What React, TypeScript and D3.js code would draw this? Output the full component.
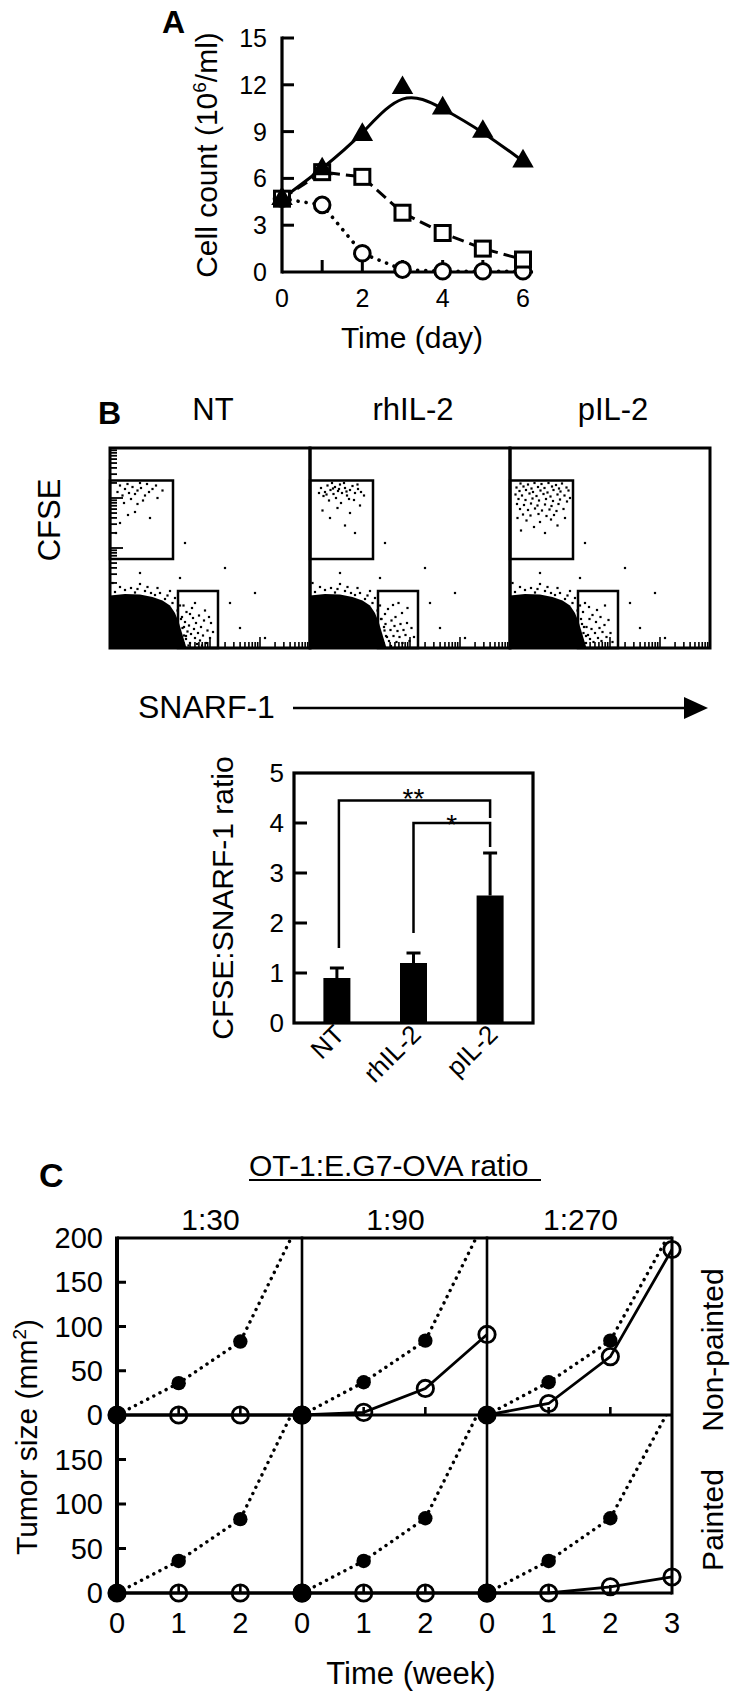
import React from 'react';
import * as d3 from 'd3';

const FONT = "'Liberation Sans', Arial, Helvetica, sans-serif";

// ---------- Panel A: cell count over time
const DAYS = [0, 1, 2, 3, 4, 5, 6];
const COUNT_TRI = [4.7, 6.6, 8.8, 11.8, 10.5, 9.0, 7.1];
const COUNT_SQ = [4.7, 6.4, 6.1, 3.8, 2.5, 1.5, 0.8];
const COUNT_CIR = [4.7, 4.3, 1.2, 0.15, 0.05, 0.05, 0.05];
const A_YTICKS = [0, 3, 6, 9, 12, 15];
const A_XLABELS = [0, 2, 4, 6];

// ---------- Panel B: flow plots (log decades, 0-4)
const FLOW_NAMES = ['NT', 'rhIL-2', 'pIL-2'];
const BLOB = [[0, 0], [0, 1.05], [0.3, 1.08], [0.6, 1.07], [0.85, 1.02], [1.05, 0.95], [1.2, 0.85], [1.3, 0.7], [1.38, 0.5], [1.44, 0.3], [1.5, 0.1], [1.53, 0]];
const BLOB_EDGE = [[0.1, 1.12], [0.3, 1.16], [0.5, 1.11], [0.7, 1.14], [0.9, 1.06], [1.1, 0.98], [1.25, 0.9], [1.35, 0.75], [0.2, 1.22], [0.6, 1.28], [1.0, 1.1], [1.3, 1.0], [0.42, 1.2], [0.82, 1.1], [1.42, 0.58], [1.2, 1.14], [1.48, 0.42], [1.52, 0.24], [0.05, 1.3], [0.95, 1.2], [1.15, 1.05], [0.75, 1.22], [1.4, 0.85], [0.55, 1.18]];
const TOP_GATE = [0, 1.26, 1.78, 3.35];
const LOW_GATE = [1.36, 2.16, 0, 1.14];
const NT_TOP = [[0.15, 3.12], [0.25, 3.05], [0.3, 3.18], [0.38, 3.1], [0.45, 3.22], [0.5, 3.08], [0.55, 3.15], [0.62, 3.2], [0.7, 3.05], [0.78, 3.12], [0.2, 3.25], [0.35, 3.28], [0.6, 3.3], [0.85, 3.18], [0.92, 3.25], [0.42, 2.98], [0.66, 2.95], [0.28, 2.9], [0.55, 2.88], [0.36, 2.66], [0.5, 2.72], [0.2, 2.5], [0.8, 2.6], [0.12, 2.3], [0.95, 3.0], [1.05, 3.15], [0.74, 3.28]];
const RH_TOP = [[0.22, 3.2], [0.3, 3.12], [0.35, 3.25], [0.41, 3.16], [0.47, 3.08], [0.5, 3.22], [0.56, 3.14], [0.6, 3.27], [0.64, 3.1], [0.7, 3.2], [0.74, 3.05], [0.8, 3.16], [0.85, 3.24], [0.9, 3.1], [0.96, 3.18], [1.02, 3.12], [0.27, 3.04], [0.44, 3.3], [0.68, 3.3], [0.52, 3.0], [0.78, 2.98], [0.38, 2.95], [0.62, 2.9], [0.88, 2.96], [1.08, 3.05], [0.18, 3.1], [0.58, 3.18], [0.73, 3.13], [0.46, 3.19], [0.33, 3.07], [0.95, 3.27], [0.55, 2.8], [0.8, 2.7], [0.4, 2.6], [0.7, 2.45], [1.0, 2.85], [0.25, 2.75], [0.9, 2.3]];
const P_TOP = [
  [0.21, 3.29], [0.36, 3.27], [0.49, 3.3], [0.63, 3.28], [0.77, 3.3], [0.92, 3.26], [1.04, 3.29],
  [0.13, 3.21], [0.27, 3.23], [0.43, 3.19], [0.56, 3.22], [0.69, 3.2], [0.84, 3.23], [0.98, 3.19], [1.13, 3.21],
  [0.19, 3.14], [0.32, 3.16], [0.46, 3.12], [0.61, 3.15], [0.75, 3.11], [0.87, 3.16], [1.01, 3.13], [1.17, 3.15],
  [0.11, 3.07], [0.24, 3.05], [0.39, 3.09], [0.53, 3.04], [0.67, 3.08], [0.81, 3.03], [0.95, 3.07], [1.09, 3.05],
  [0.17, 2.98], [0.31, 2.96], [0.45, 2.99], [0.58, 2.95], [0.72, 2.98], [0.86, 2.94], [1.0, 2.97], [1.14, 2.93],
  [0.14, 2.88], [0.28, 2.86], [0.42, 2.89], [0.55, 2.85], [0.7, 2.87], [0.83, 2.84], [0.97, 2.88],
  [0.2, 2.78], [0.36, 2.76], [0.5, 2.79], [0.64, 2.75], [0.79, 2.77], [0.93, 2.74], [1.07, 2.78],
  [0.26, 2.67], [0.41, 2.65], [0.57, 2.68], [0.73, 2.64], [0.88, 2.66],
  [0.33, 2.55], [0.6, 2.52], [0.82, 2.57], [0.48, 2.42], [0.95, 2.45], [0.22, 2.35], [0.7, 2.3], [1.1, 2.6], [0.15, 2.6], [1.2, 3.0],
];
const NT_LOW = [[1.42, 0.12], [1.48, 0.25], [1.45, 0.4], [1.52, 0.18], [1.55, 0.33], [1.5, 0.52], [1.6, 0.1], [1.62, 0.28], [1.58, 0.45], [1.66, 0.6], [1.7, 0.2], [1.68, 0.38], [1.74, 0.08], [1.76, 0.3], [1.72, 0.5], [1.8, 0.15], [1.82, 0.42], [1.78, 0.65], [1.86, 0.25], [1.88, 0.55], [1.92, 0.1], [1.95, 0.35], [1.9, 0.75], [2.0, 0.2], [2.02, 0.5], [1.44, 0.62], [1.53, 0.72], [1.64, 0.8], [1.57, 0.05], [1.84, 0.05], [1.98, 0.62], [2.06, 0.32], [1.47, 0.85], [1.7, 0.9], [1.6, 0.68]];
const RH_LOW = [[1.41, 0.2], [1.46, 0.08], [1.49, 0.35], [1.54, 0.22], [1.51, 0.48], [1.58, 0.14], [1.61, 0.36], [1.63, 0.55], [1.67, 0.24], [1.69, 0.44], [1.73, 0.12], [1.75, 0.34], [1.71, 0.62], [1.79, 0.22], [1.81, 0.48], [1.85, 0.1], [1.87, 0.36], [1.84, 0.7], [1.91, 0.26], [1.94, 0.5], [1.99, 0.14], [2.03, 0.4], [1.43, 0.58], [1.56, 0.78], [1.66, 0.86], [1.77, 0.9], [1.95, 0.8], [2.08, 0.22], [1.5, 0.68], [1.62, 0.04]];
const P_LOW = [[1.42, 0.16], [1.47, 0.3], [1.44, 0.48], [1.52, 0.1], [1.56, 0.26], [1.53, 0.42], [1.6, 0.18], [1.63, 0.38], [1.59, 0.58], [1.67, 0.12], [1.7, 0.3], [1.72, 0.52], [1.76, 0.2], [1.79, 0.4], [1.83, 0.14], [1.85, 0.32], [1.81, 0.62], [1.89, 0.46], [1.93, 0.22], [1.97, 0.56], [2.01, 0.3], [1.46, 0.72], [1.58, 0.82], [1.74, 0.76], [1.9, 0.85], [2.05, 0.12], [1.65, 0.66], [1.5, 0.9]];
const STRAY = [[2.6, 0.4], [3.1, 0.2], [2.3, 1.6], [1.5, 2.1], [0.6, 1.5], [2.9, 1.1], [1.4, 1.4], [2.4, 0.9]];
const FLOW_TOPS = [NT_TOP, RH_TOP, P_TOP];
const FLOW_LOWS = [NT_LOW, RH_LOW, P_LOW];

// ---------- Panel B: ratio bar chart
const GROUPS = ['NT', 'rhIL-2', 'pIL-2'];
const RATIO_MEAN = [0.9, 1.2, 2.55];
const RATIO_SD = [0.2, 0.2, 0.85];
const B_YTICKS = [0, 1, 2, 3, 4, 5];

// ---------- Panel C: tumor growth
const WEEKS = [0, 1, 2, 3];
const RATIO_LABELS = ['1:30', '1:90', '1:270'];
const CTRL_NONPAINTED = [[0, 36, 83, 225], [0, 37, 84, 225], [0, 37, 84, 210]];
const OT1_NONPAINTED = [[0, 0, 0, 0], [0, 3, 30, 91], [0, 13, 66, 187]];
const CTRL_PAINTED = [[0, 36, 83, 225], [0, 36, 84, 222], [0, 36, 84, 212]];
const OT1_PAINTED = [[0, 0, 0, 0], [0, 0, 0, 0], [0, 0, 7, 18]];
const C_YTICKS = [0, 50, 100, 150];

function PanelA() {
  const x = d3.scaleLinear([0, 6], [282, 523]);
  const y = d3.scaleLinear([0, 15], [272, 38]);
  const line = d3.line<number>().x((_, i) => x(DAYS[i])).y((d) => y(d));
  const smooth = d3.line<number>().x((_, i) => x(DAYS[i])).y((d) => y(d)).curve(d3.curveBasis);
  const tri = d3.symbol(d3.symbolTriangle, 200)() as string;
  return (
    <g>
      <text x={162} y={33} fontSize={32} fontWeight="bold">A</text>
      {/* axes */}
      <line x1={x(0)} x2={x(0)} y1={y(15) - 1.5} y2={y(0) + 1.5} stroke="#000" strokeWidth={3.2} />
      <line x1={x(0)} x2={x(6.25)} y1={y(0)} y2={y(0)} stroke="#000" strokeWidth={3.2} />
      {A_YTICKS.filter((t) => t > 0).map((t) => (
        <line key={t} x1={x(0)} x2={x(0) + 12} y1={y(t)} y2={y(t)} stroke="#000" strokeWidth={3} />
      ))}
      {DAYS.filter((d) => d > 0).map((d) => (
        <line key={d} x1={x(d)} x2={x(d)} y1={y(0)} y2={y(0) - 12} stroke="#000" strokeWidth={3} />
      ))}
      {A_YTICKS.map((t) => (
        <text key={t} x={267} y={y(t) + 9} fontSize={25} textAnchor="end">{t}</text>
      ))}
      {A_XLABELS.map((d) => (
        <text key={d} x={x(d)} y={307} fontSize={25} textAnchor="middle">{d}</text>
      ))}
      <text x={412} y={348} fontSize={30} textAnchor="middle">Time (day)</text>
      <text transform="translate(217,155) rotate(-90)" fontSize={30} textAnchor="middle">
        Cell count (10<tspan dy={-11} fontSize={19}>6</tspan><tspan dy={11}>/ml)</tspan>
      </text>
      {/* series */}
      <path d={line(COUNT_CIR) as string} fill="none" stroke="#000" strokeWidth={3.6} strokeDasharray="0.1 8" strokeLinecap="round" />
      <path d={line(COUNT_SQ) as string} fill="none" stroke="#000" strokeWidth={3} strokeDasharray="12 6" />
      <path d={smooth(COUNT_TRI) as string} fill="none" stroke="#000" strokeWidth={3} />
      {COUNT_CIR.map((v, i) => (
        <circle key={i} cx={x(DAYS[i])} cy={y(v)} r={7.8} fill="#fff" stroke="#000" strokeWidth={3} />
      ))}
      {COUNT_SQ.map((v, i) => (
        <rect key={i} x={x(DAYS[i]) - 7.5} y={y(v) - 7.5} width={15} height={15} fill="#fff" stroke="#000" strokeWidth={3} />
      ))}
      {COUNT_TRI.map((v, i) => (
        <path key={i} d={tri} transform={`translate(${x(DAYS[i])},${y(v)})`} fill="#000" />
      ))}
    </g>
  );
}

function FlowPlot({ idx }: { idx: number }) {
  const left = 110 + idx * 200;
  const x = d3.scaleLinear([0, 4], [left, left + 200]);
  const y = d3.scaleLinear([0, 4], [648, 448]);
  const log = d3.scaleLog([1, 1e4], [0, 4]);
  const ticks = log.ticks().map((t) => Math.log10(t)).filter((e) => e > 0.001 && e < 3.999);
  const isMajor = (e: number) => Math.abs(e - Math.round(e)) < 1e-6;
  const blobPath = d3.line<number[]>().x((d) => x(d[0])).y((d) => y(d[1])).curve(d3.curveLinearClosed)(BLOB) as string;
  const dots = [...FLOW_TOPS[idx], ...FLOW_LOWS[idx], ...BLOB_EDGE, ...STRAY];
  return (
    <g>
      <text x={x(2) + 3} y={420} fontSize={31} textAnchor="middle">{FLOW_NAMES[idx]}</text>
      <path d={blobPath} fill="#000" />
      {dots.map((d, i) => (
        <rect key={i} x={x(d[0]) - 1.1} y={y(d[1]) - 1.1} width={2.2} height={2.2} fill="#000" />
      ))}
      <rect x={x(TOP_GATE[0])} y={y(TOP_GATE[3])} width={x(TOP_GATE[1]) - x(TOP_GATE[0])} height={y(TOP_GATE[2]) - y(TOP_GATE[3])} fill="none" stroke="#000" strokeWidth={2.5} />
      <rect x={x(LOW_GATE[0])} y={y(LOW_GATE[3])} width={x(LOW_GATE[1]) - x(LOW_GATE[0])} height={y(LOW_GATE[2]) - y(LOW_GATE[3])} fill="none" stroke="#000" strokeWidth={2.5} />
      {ticks.map((e) => (
        <line key={'x' + e} x1={x(e)} x2={x(e)} y1={y(0)} y2={y(0) - (isMajor(e) ? 11 : 6)} stroke="#000" strokeWidth={1.6} />
      ))}
      {idx === 0 && ticks.map((e) => (
        <line key={'y' + e} x1={x(0)} x2={x(0) + (isMajor(e) ? 13 : 7)} y1={y(e)} y2={y(e)} stroke="#000" strokeWidth={1.8} />
      ))}
      <rect x={x(0)} y={y(4)} width={200} height={200} fill="none" stroke="#000" strokeWidth={3} />
    </g>
  );
}

function PanelB() {
  const x = d3.scalePoint(GROUPS, [294, 533]).padding(0.56);
  const y = d3.scaleLinear([0, 5], [1023, 773]);
  const barW = 27;
  const cx = (g: string) => x(g) as number;
  return (
    <g>
      <text x={98} y={424} fontSize={32} fontWeight="bold">B</text>
      <text transform="translate(60,520) rotate(-90)" fontSize={31} textAnchor="middle">CFSE</text>
      {FLOW_NAMES.map((_, i) => <FlowPlot key={i} idx={i} />)}
      <text x={138} y={718} fontSize={32}>SNARF-1</text>
      <line x1={293} x2={684} y1={708} y2={708} stroke="#000" strokeWidth={2.5} />
      <path d="M684,697 L708,708 L684,719 Z" fill="#000" />

      {/* bar chart */}
      <rect x={294} y={773} width={239} height={250} fill="none" stroke="#000" strokeWidth={3.2} />
      {B_YTICKS.filter((t) => t > 0 && t < 5).map((t) => (
        <line key={t} x1={294} x2={307} y1={y(t)} y2={y(t)} stroke="#000" strokeWidth={3} />
      ))}
      {B_YTICKS.map((t) => (
        <text key={t} x={284} y={y(t) + 9} fontSize={26} textAnchor="end">{t}</text>
      ))}
      <text transform="translate(233,898) rotate(-90)" fontSize={30} textAnchor="middle">CFSE:SNARF-1 ratio</text>
      {GROUPS.map((g, i) => (
        <g key={g}>
          <line x1={cx(g)} x2={cx(g)} y1={y(RATIO_MEAN[i])} y2={y(RATIO_MEAN[i] + RATIO_SD[i])} stroke="#000" strokeWidth={3} />
          <line x1={cx(g) - 7} x2={cx(g) + 7} y1={y(RATIO_MEAN[i] + RATIO_SD[i])} y2={y(RATIO_MEAN[i] + RATIO_SD[i])} stroke="#000" strokeWidth={3} />
          <rect x={cx(g) - barW / 2} y={y(RATIO_MEAN[i])} width={barW} height={y(0) - y(RATIO_MEAN[i])} fill="#000" />
          <text transform={`translate(${cx(g) + 9},${1036}) rotate(-45)`} fontSize={26} textAnchor="end">{g}</text>
        </g>
      ))}
      {/* significance brackets */}
      <path d={`M${cx('NT') + 2},${y(1.5)} V${y(4.45)} H${cx('pIL-2')} V${y(4.1)}`} fill="none" stroke="#000" strokeWidth={2.5} />
      <path d={`M${cx('rhIL-2')},${y(1.8)} V${y(4.0)} H${cx('pIL-2')} V${y(3.52)}`} fill="none" stroke="#000" strokeWidth={2.5} />
      <text x={(cx('NT') + cx('pIL-2')) / 2} y={808} fontSize={28} textAnchor="middle">**</text>
      <text x={(cx('rhIL-2') + cx('pIL-2')) / 2} y={834} fontSize={28} textAnchor="middle">*</text>
    </g>
  );
}

function PanelC() {
  const yTop = d3.scaleLinear([0, 200], [1415, 1238]);
  const yBot = d3.scaleLinear([0, 200], [1593, 1415]);
  const rows = [
    { y: yTop, ctrl: CTRL_NONPAINTED, ot1: OT1_NONPAINTED, clip: 'clipTop' },
    { y: yBot, ctrl: CTRL_PAINTED, ot1: OT1_PAINTED, clip: 'clipBot' },
  ];
  const left = 117, right = 672;
  return (
    <g>
      <defs>
        <clipPath id="clipTop"><rect x={0} y={1238} width={734} height={200} /></clipPath>
        <clipPath id="clipBot"><rect x={0} y={1415} width={734} height={200} /></clipPath>
      </defs>
      <text x={39} y={1187} fontSize={34} fontWeight="bold">C</text>
      <text x={249} y={1176} fontSize={30}>OT-1:E.G7-OVA ratio</text>
      <line x1={249} x2={541} y1={1180} y2={1180} stroke="#000" strokeWidth={2} />
      {RATIO_LABELS.map((lab, i) => {
        const x = d3.scaleLinear([0, 3], [left + 185 * i, left + 185 * (i + 1)]);
        return <text key={lab} x={x(1.5) + 1} y={1230} fontSize={30} textAnchor="middle">{lab}</text>;
      })}
      {/* frame */}
      <line x1={left} x2={right} y1={1238} y2={1238} stroke="#000" strokeWidth={3} />
      <line x1={left} x2={right} y1={1415} y2={1415} stroke="#000" strokeWidth={3} />
      <line x1={left} x2={right} y1={1593} y2={1593} stroke="#000" strokeWidth={3} />
      <line x1={left} x2={left} y1={1236.5} y2={1594.5} stroke="#000" strokeWidth={4} />
      {[1, 2, 3].map((i) => (
        <line key={i} x1={left + 185 * i} x2={left + 185 * i} y1={1236.5} y2={1594.5} stroke="#000" strokeWidth={i === 3 ? 3 : 2.6} />
      ))}
      {rows.map((row, r) => (
        <g key={r}>
          {C_YTICKS.filter((t) => t > 0).map((t) => (
            <line key={t} x1={left} x2={left + 9} y1={row.y(t)} y2={row.y(t)} stroke="#000" strokeWidth={3} />
          ))}
          {[...C_YTICKS, ...(r === 0 ? [200] : [])].map((t) => (
            <text key={t} x={103} y={row.y(t) + 10} fontSize={29} textAnchor="end">{t}</text>
          ))}
          {RATIO_LABELS.map((_, i) => {
            const x = d3.scaleLinear([0, 3], [left + 185 * i, left + 185 * (i + 1)]);
            const line = d3.line<number>().x((_, k) => x(WEEKS[k])).y((v) => row.y(v));
            return (
              <g key={i}>
                {[1, 2].map((w) => (
                  <line key={w} x1={x(w)} x2={x(w)} y1={row.y(0)} y2={row.y(0) - 8} stroke="#000" strokeWidth={2.6} />
                ))}
                <g clipPath={`url(#${row.clip})`}>
                  <path d={line(row.ctrl[i]) as string} fill="none" stroke="#000" strokeWidth={3.4} strokeDasharray="0.1 6.8" strokeLinecap="round" />
                  {row.ctrl[i].map((v, k) => (
                    <circle key={k} cx={x(WEEKS[k])} cy={row.y(v)} r={k === 0 ? 7.8 : 7.2} fill="#000" />
                  ))}
                </g>
                <path d={line(row.ot1[i]) as string} fill="none" stroke="#000" strokeWidth={2.8} />
                {row.ot1[i].map((v, k) => (
                  <circle key={k} cx={x(WEEKS[k])} cy={row.y(v)} r={8.2} fill="none" stroke="#000" strokeWidth={2.8} />
                ))}
              </g>
            );
          })}
        </g>
      ))}
      {RATIO_LABELS.map((_, i) => {
        const x = d3.scaleLinear([0, 3], [left + 185 * i, left + 185 * (i + 1)]);
        return WEEKS.filter((w) => i === 2 || w < 3).map((w) => (
          <text key={`${i}-${w}`} x={x(w)} y={1633} fontSize={29} textAnchor="middle">{w}</text>
        ));
      })}
      <text x={411} y={1684} fontSize={31} textAnchor="middle">Time (week)</text>
      <text transform="translate(37,1437) rotate(-90)" fontSize={30} textAnchor="middle">
        Tumor size (mm<tspan dy={-11} fontSize={19}>2</tspan><tspan dy={11}>)</tspan>
      </text>
      <text transform="translate(723,1350) rotate(-90)" fontSize={30} textAnchor="middle">Non-painted</text>
      <text transform="translate(723,1520) rotate(-90)" fontSize={30} textAnchor="middle">Painted</text>
    </g>
  );
}

export default function App() {
  return (
    <svg width={734} height={1694} viewBox="0 0 734 1694" fontFamily={FONT}
      style={{ position: 'absolute', left: 0, top: 0, background: '#fff' }}>
      <rect width={734} height={1694} fill="#fff" />
      <PanelA />
      <PanelB />
      <PanelC />
    </svg>
  );
}
